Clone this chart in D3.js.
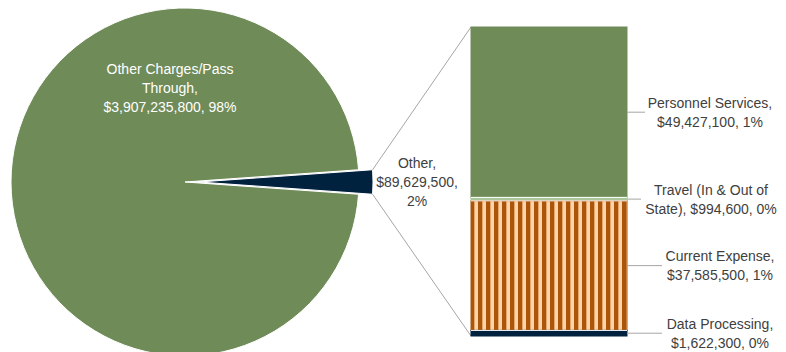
<!DOCTYPE html>
<html>
<head>
<meta charset="utf-8">
<script src="https://cdn.jsdelivr.net/npm/d3@7"></script>
<style>
  html, body { margin: 0; padding: 0; background: #ffffff; }
  svg { display: block; }
  text { font-family: "Liberation Sans", Arial, sans-serif; }
</style>
</head>
<body>
<svg id="chart" width="786" height="352"></svg>
<script>
// ---- data ----
const pieCategories = ["Other Charges/Pass Through", "Other"];
const pieValues = [3907235800, 89629500];
const barCategories = ["Personnel Services", "Travel (In & Out of State)", "Current Expense", "Data Processing"];
const barValues = [49427100, 994600, 37585500, 1622300];
// label line breaks (the first line(s) of each label; value and percent appended)
const pieLabelBreaks = [["Other Charges/Pass", "Through,"], ["Other,"]];
const barLabelBreaks = [["Personnel Services,"], ["Travel (In & Out of", "State),"], ["Current Expense,"], ["Data Processing,"]];

// ---- styles ----
const green = "#6F8B58", navy = "#00223F", lightGreen = "#A9C79A";
const orange = "#A9560C", peach = "#FCD5AA";
const lineGray = "#A6A6A6", textGray = "#404040";

const svg = d3.select("#chart");
const total = d3.sum(pieValues);
const money = d3.format("$,");
const pct = v => Math.round(v / total * 100) + "%";

// ---- pattern for striped segment ----
const defs = svg.append("defs");
const pat = defs.append("pattern").attr("id", "stripes")
  .attr("patternUnits", "userSpaceOnUse").attr("x", 471).attr("y", 0)
  .attr("width", 8).attr("height", 8);
pat.append("rect").attr("width", 8).attr("height", 8).attr("fill", orange);
pat.append("rect").attr("x", 3).attr("width", 4).attr("height", 8).attr("fill", peach);
pat.append("rect").attr("x", 3).attr("width", 1).attr("height", 8).attr("fill", "#E9A66A");

// ---- pie ----
const cx = 185, cy = 182, R = 174, explode = 14;
const f = pieValues[1] / total;
const offset = Math.PI / 2 + Math.PI * f;
const pie = d3.pie().sort(null).startAngle(offset).endAngle(offset + 2 * Math.PI);
const arcs = pie(pieValues);
const arc = d3.arc().innerRadius(0).outerRadius(R);
const pieColors = [green, navy];

const pg = svg.append("g").attr("transform", `translate(${cx},${cy})`);
pg.selectAll("path").data(arcs).join("path")
  .attr("d", arc)
  .attr("fill", (d, i) => pieColors[i])
  .attr("stroke", "#ffffff").attr("stroke-width", 1)
  .attr("transform", (d, i) => {
    if (i !== 1) return null;
    const mid = (d.startAngle + d.endAngle) / 2;
    return `translate(${Math.sin(mid) * explode},${-Math.cos(mid) * explode})`;
  });

// corners of the exploded slice
const o = arcs[1];
const midA = (o.startAngle + o.endAngle) / 2;
const ex = Math.sin(midA) * explode, ey = -Math.cos(midA) * explode;
const corner = a => [cx + ex + Math.sin(a) * R, cy + ey - Math.cos(a) * R];
const cTop = corner(o.startAngle), cBot = corner(o.endAngle);

// ---- bar ----
const barX = 471, barW = 156, barTop = 27, barBottom = 336;
const barTotal = d3.sum(barValues);
const y = d3.scaleLinear().domain([0, barTotal]).range([barBottom, barTop]);
// stack from the bottom: last category at bottom
const segs = [];
let acc = 0;
for (let i = barCategories.length - 1; i >= 0; i--) {
  segs.unshift({ i, y0: acc, y1: acc + barValues[i] });
  acc += barValues[i];
}
const barFills = [green, lightGreen, "url(#stripes)", navy];
const barStrokes = [green, lightGreen, orange, navy];

// connector lines
svg.append("line").attr("x1", cTop[0]).attr("y1", cTop[1]).attr("x2", barX).attr("y2", y(barTotal))
  .attr("stroke", lineGray).attr("stroke-width", 1);
svg.append("line").attr("x1", cBot[0]).attr("y1", cBot[1]).attr("x2", barX).attr("y2", y(0))
  .attr("stroke", lineGray).attr("stroke-width", 1);

svg.append("g").selectAll("rect").data(segs).join("rect")
  .attr("x", barX)
  .attr("y", d => y(d.y1))
  .attr("width", barW)
  .attr("height", d => y(d.y0) - y(d.y1))
  .attr("fill", d => barFills[d.i])
  .attr("stroke", d => barStrokes[d.i])
  .attr("stroke-width", 1);
// thin white separators between segments
svg.append("g").selectAll("line").data(segs.slice(1)).join("line")
  .attr("x1", barX).attr("x2", barX + barW)
  .attr("y1", d => y(d.y1)).attr("y2", d => y(d.y1))
  .attr("stroke", "#ffffff").attr("stroke-width", 1);

// ---- labels ----
const fs = 14, lh = 19;
function label(x, yc, lines, color) {
  const t = svg.append("text").attr("text-anchor", "middle")
    .attr("font-size", fs).attr("fill", color);
  const n = lines.length;
  lines.forEach((s, k) => {
    t.append("tspan").attr("x", x)
      .attr("y", yc + (k - (n - 1) / 2) * lh)
      .attr("dy", "0.35em").text(s);
  });
}
function lastLine(br, v, withComma) {
  return br;
}
// pie main label
label(cx - 15, cy - 94,
  [pieLabelBreaks[0][0], pieLabelBreaks[0][1], `${money(pieValues[0])}, ${pct(pieValues[0])}`], "#ffffff");
// other label
label(417, 182, [pieLabelBreaks[1][0], money(pieValues[1]) + ",", pct(pieValues[1])], textGray);

// bar labels
const labelX = [710, 711, 720, 720];
const leaderEnd = [645, 641, 662, 662];
segs.forEach(d => {
  const i = d.i;
  const ym = (y(d.y0) + y(d.y1)) / 2;
  svg.append("line").attr("x1", barX + barW).attr("x2", leaderEnd[i])
    .attr("y1", ym).attr("y2", ym).attr("stroke", lineGray).attr("stroke-width", 1);
  const br = barLabelBreaks[i];
  const vp = `${money(barValues[i])}, ${pct(barValues[i])}`;
  let lines;
  if (br.length === 1) lines = [br[0], vp];
  else lines = [br[0], br[1] + " " + vp];
  label(labelX[i], ym, lines, textGray);
});
</script>
</body>
</html>
